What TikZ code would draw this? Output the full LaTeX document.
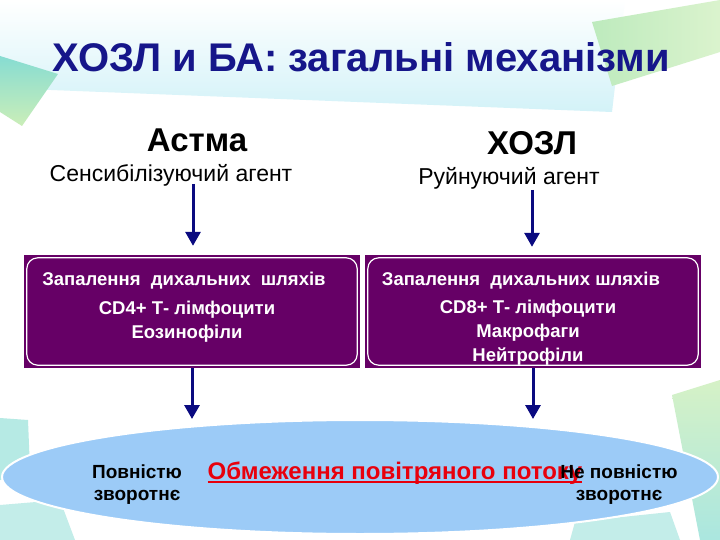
\documentclass[tikz,border=0pt]{standalone}
\usepackage{fontspec}
\setmainfont{Liberation Sans}
\usepackage{tikz}
\usetikzlibrary{arrows.meta,shapes.geometric,positioning}
\definecolor{titleblue}{HTML}{16168A}
\definecolor{arrowblue}{HTML}{0A0A80}
\definecolor{boxpurple}{HTML}{660066}
\definecolor{ovalblue}{HTML}{9CCBF7}
\definecolor{alertred}{HTML}{E8000C}
\definecolor{bandcyan}{HTML}{D3F2F8}
\definecolor{leafteal}{HTML}{86DCD2}
\definecolor{leafgreen}{HTML}{CBEEB8}
\tikzset{
  FlowArrow/.style={
    draw=arrowblue, line width=3pt,
    -{Triangle[length=14pt,width=15pt]}
  },
  CellBox/.style={
    fill=boxpurple, draw=none, inner sep=0pt,
    minimum width=336pt, minimum height=113pt
  },
  CellRim/.style={draw=white, line width=1.2pt, rounded corners=11pt},
  CellHead/.style={text=white, inner sep=0pt, anchor=base,
    font=\fontsize{18.5}{20}\selectfont\bfseries},
  % multi-line nodes: base is the last line
  CellBody/.style={text=white, inner sep=0pt, anchor=base, align=center,
    font=\fontsize{18.5}{24}\selectfont\bfseries},
  SideNote/.style={text=black, inner sep=0pt, anchor=base, align=center,
    font=\fontsize{19}{22}\selectfont\bfseries}
}

\begin{document}
\begin{tikzpicture}[x=1pt, y=-1pt, line join=round]
  \useasboundingbox (0,0) rectangle (720,540);
  \fill[white] (0,0) rectangle (720,540);

  % background leaves
  \shade[top color=white, bottom color=bandcyan]
    (0,0) -- (625,0) -- (612,112) -- (0,88) -- cycle;
  \shade[top color=leafteal, bottom color=leafgreen]
    (0,56) -- (58,74) -- (22,126) -- (0,112) -- cycle;
  \shade[left color=leafgreen!80!leafteal, right color=leafgreen!70]
    (592,22) -- (720,0) -- (720,52) -- (612,86) -- cycle;
  \fill[leafteal!60] (0,418) -- (28,420) -- (30,470) -- (0,480) -- cycle;
  \fill[leafteal!50] (0,505) -- (60,500) -- (75,540) -- (0,540) -- cycle;
  \shade[top color=leafgreen!80, bottom color=leafteal!70]
    (672,395) -- (720,380) -- (720,540) -- (700,540) -- cycle;
  \fill[leafteal!50] (575,522) -- (670,512) -- (680,540) -- (570,540) -- cycle;

  % title
  \node[text=titleblue, inner sep=0pt, anchor=base,
    font=\fontsize{40}{44}\selectfont\bfseries] (title) at (361,72)
    {ХОЗЛ и БА: загальні механізми};

  % column heads
  \node[inner sep=0pt, anchor=base, font=\fontsize{33}{36}\selectfont\bfseries]
    (asthma) at (197,152) {Астма};
  \node[inner sep=0pt, anchor=base, font=\fontsize{33}{36}\selectfont\bfseries]
    (copd) at (532,155) {ХОЗЛ};
  \node[inner sep=0pt, anchor=base, font=\fontsize{23}{26}\selectfont]
    (asthmaAgent) at (171,182) {Сенсибілізуючий агент};
  \node[inner sep=0pt, anchor=base, font=\fontsize{23}{26}\selectfont]
    (copdAgent) at (509,185) {Руйнуючий агент};

  % inflammation boxes
  \node[CellBox] (asthmaBox) at (192,311.5) {};
  \node[CellBox] (copdBox) at (533,311.5) {};
  \draw[CellRim] ([shift={(3,3)}]asthmaBox.north west)
    rectangle ([shift={(-3,-3)}]asthmaBox.south east);
  \draw[CellRim] ([shift={(3,3)}]copdBox.north west)
    rectangle ([shift={(-3,-3)}]copdBox.south east);

  \node[CellHead] (asthmaHead) at (184,285) {Запалення\ \ дихальних\ \ шляхів};
  \node[CellBody] (asthmaCells) at (187,338) {CD4+ Т- лімфоцити\\Еозинофіли};
  \node[CellHead] (copdHead) at (521,285) {Запалення\ \ дихальних шляхів};
  \node[CellBody] (copdCells) at (528,361)
    {CD8+ Т- лімфоцити\\Макрофаги\\Нейтрофіли};

  % airflow oval
  \node[ellipse, fill=ovalblue, draw=white, line width=2pt, inner sep=0pt,
    minimum width=716pt, minimum height=114pt] (airflow) at (360,477) {};
  \node[SideNote] (fullRev) at (137,500) {Повністю\\зворотнє};
  \node[text=alertred, inner sep=0pt, anchor=base,
    font=\fontsize{24}{26}\selectfont\bfseries] (airflowLimit) at (395,479)
    {Обмеження повітряного потоку};
  \draw[alertred, line width=2pt] ([yshift=-3pt]airflowLimit.base west)
    -- ([yshift=-3pt]airflowLimit.base east);
  \node[SideNote] (partRev) at (619,500) {Не повністю\\зворотнє};

  % arrows
  \coordinate (asthmaTail) at (193,184);
  \coordinate (copdTail) at (532,190);
  \draw[FlowArrow, shorten >=9pt] (asthmaTail) -- (asthmaTail |- asthmaBox.north);
  \draw[FlowArrow, shorten >=8pt] (copdTail) -- (copdTail |- copdBox.north);
  \draw[FlowArrow] (asthmaBox.south) -- (asthmaBox.south |- airflow.north);
  \draw[FlowArrow] (copdBox.south) -- (copdBox.south |- airflow.north);
\end{tikzpicture}
\end{document}
